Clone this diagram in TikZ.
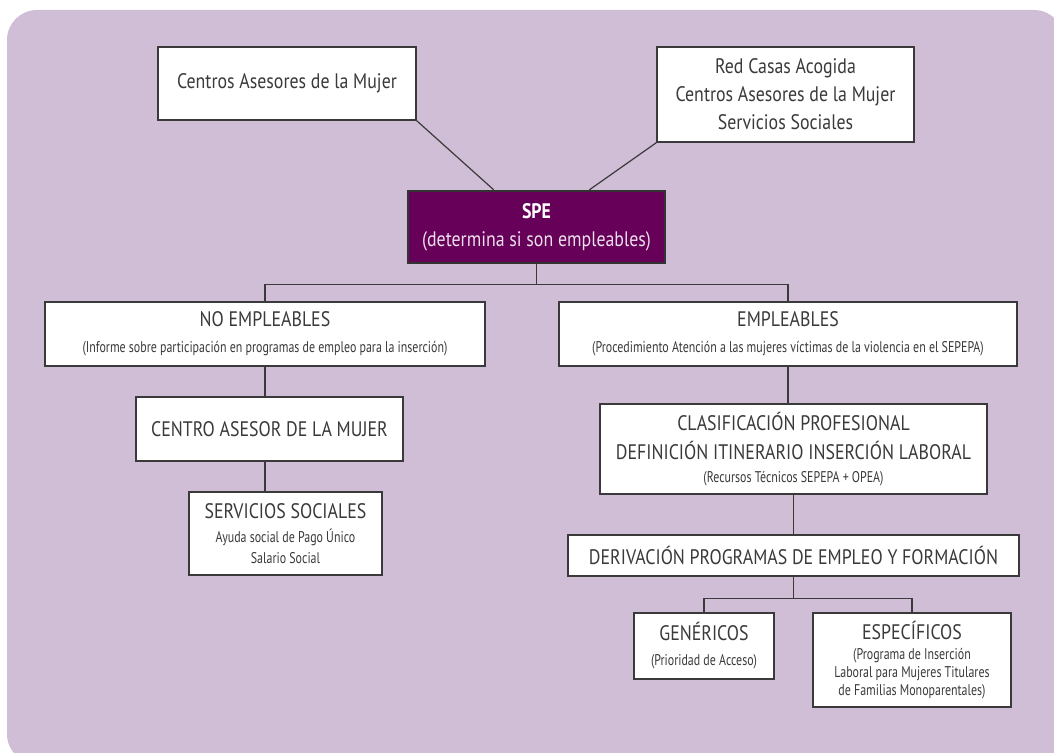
\documentclass[tikz,border=0pt]{standalone}
\usepackage{fontspec}
\setmainfont{PT Sans}[FakeStretch=0.85]
\newfontfamily\fuentechica{PT Sans}[FakeStretch=0.77]
\usetikzlibrary{calc}
\definecolor{fondo}{RGB}{208,190,214}
\definecolor{morado}{RGB}{102,0,88}
\definecolor{tinta}{RGB}{58,58,58}
\newcommand{\txtbig}{\fontsize{21}{28}\selectfont}
\newcommand{\txtsmall}{\fuentechica\fontsize{15.5}{19}\selectfont}
\begin{document}
\begin{tikzpicture}[x=1pt,y=-1pt,
  caja/.style={draw=tinta,line width=1.4pt,fill=white,text=tinta,align=center,
    inner sep=0pt,font=\txtbig},
  cajaspe/.style={draw=black!80,line width=2.4pt,fill=morado,text=white,align=center,
    inner sep=0pt,font=\txtbig,minimum width=257pt,minimum height=72pt},
  enlace/.style={draw=tinta,line width=1.2pt}]
\useasboundingbox (0,0) rectangle (1054,752);
\clip (0,0) rectangle (1054,752);
\fill[fondo,rounded corners=30pt] (7,10) rectangle (1064,764);

\node[caja,minimum width=258pt,minimum height=73pt] (asesoras) at (287,83.5) {Centros Asesores de la Mujer};
\node[caja,minimum width=257pt,minimum height=95pt] (redcasas) at (785.5,94.5)
  {Red Casas Acogida\\Centros Asesores de la Mujer\\Servicios Sociales};
\node[cajaspe] (spe) at (536.5,227)
  {\bfseries SPE\\\color{white!88!morado}(determina si son empleables)};

\node[caja,minimum width=440pt,minimum height=64pt] (noemp) at (265,334)
  {NO EMPLEABLES\\[-2pt]\txtsmall (Informe sobre participación en programas de empleo para la inserción)};
\node[caja,minimum width=458pt,minimum height=64pt] (emp) at (788,334)
  {EMPLEABLES\\[-2pt]\txtsmall (Procedimiento Atención a las mujeres víctimas de la violencia en el SEPEPA)};

\node[caja,minimum width=267pt,minimum height=64pt] (cam) at (269.5,429) {CENTRO ASESOR DE LA MUJER};
\node[caja,minimum width=193pt,minimum height=83pt] (sersoc) at (285.5,533.5)
  {SERVICIOS SOCIALES\\[-4pt]\txtsmall Ayuda social de Pago Único\\[-7pt]\txtsmall Salario Social};

\node[caja,minimum width=387pt,minimum height=90pt] (clasif) at (793.5,449)
  {CLASIFICACIÓN PROFESIONAL\\[1pt]DEFINICIÓN ITINERARIO INSERCIÓN LABORAL\\[-5pt]\txtsmall (Recursos Técnicos SEPEPA + OPEA)};
\node[caja,minimum width=451pt,minimum height=41pt] (deriv) at (793.5,555.5)
  {DERIVACIÓN PROGRAMAS DE EMPLEO Y FORMACIÓN};

\node[caja,minimum width=140pt,minimum height=66pt] (genericos) at (704,646)
  {GENÉRICOS\\[-3pt]\txtsmall (Prioridad de Acceso)};
\node[caja,minimum width=198pt,minimum height=94pt] (especificos) at (912,660)
  {ESPECÍFICOS\\[-8pt]\txtsmall (Programa de Inserción\\[-10pt]\txtsmall Laboral para Mujeres Titulares\\[-10pt]\txtsmall de Familias Monoparentales)};

% lineas
\draw[enlace] (asesoras.south east) -- ($(spe.north west)!0.335!(spe.north east)$);
\draw[enlace] (redcasas.south west) -- ($(spe.north west)!0.704!(spe.north east)$);
\coordinate (reparto) at ($(spe.south)+(0,20)$);
\draw[enlace] (spe.south) -- (reparto) -| (noemp.north);
\draw[enlace] (reparto) -| (emp.north);
\draw[enlace] (noemp.south) -- (noemp.south |- cam.north);
\draw[enlace] (noemp.south |- cam.south) -- (noemp.south |- sersoc.north);
\draw[enlace] (emp.south) -- (emp.south |- clasif.north);
\draw[enlace] (clasif.south) -- (deriv.north);
\coordinate (reparto2) at ($(deriv.south)+(0,22)$);
\draw[enlace] (deriv.south) -- (reparto2) -| (genericos.north);
\draw[enlace] (reparto2) -| (especificos.north);
\end{tikzpicture}
\end{document}
